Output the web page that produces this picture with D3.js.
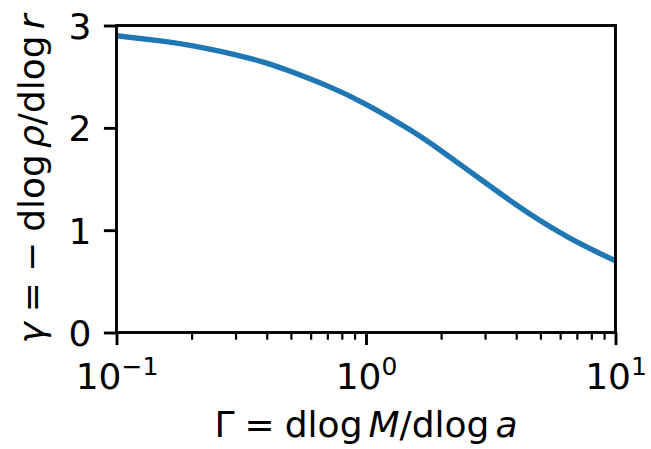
<!DOCTYPE html>
<html>
<head>
<meta charset="utf-8">
<script src="https://cdn.jsdelivr.net/npm/d3@7"></script>
<style>
  html, body { margin: 0; padding: 0; background: #fff; }
  svg { display: block; }
  text { font-family: "DejaVu Sans", sans-serif; fill: #000; }
</style>
</head>
<body>
<svg id="chart" width="651" height="449"></svg>
<script>
// Logarithmic growth rate of the enclosed mass, Γ = dlog M / dlog a
const growthRate = [0.1, 0.15, 0.2, 0.3, 0.4, 0.5, 0.7, 1.0, 1.5, 2.0, 3.0, 4.0, 5.0, 7.0, 10.0];
// Corresponding logarithmic density slope, γ = −dlog ρ / dlog r
const densitySlope = [2.900, 2.850, 2.803, 2.714, 2.632, 2.550, 2.410, 2.230, 1.981, 1.776, 1.466, 1.248, 1.092, 0.885, 0.700];

// Tick labels
const yTicks = [0, 1, 2, 3];
const xTicks = [0.1, 1, 10];
const xTickExponents = ["−1", "0", "1"];

const svg = d3.select("#chart");
const margin = { left: 116.5, right: 35.5, top: 25.5, bottom: 116.5 };
const W = 651, H = 449;
const innerW = W - margin.left - margin.right;
const innerH = H - margin.top - margin.bottom;

const x = d3.scaleLog().domain([0.1, 10]).range([0, innerW]);
const y = d3.scaleLinear().domain([0, 3]).range([innerH, 0]);

const g = svg.append("g").attr("transform", `translate(${margin.left},${margin.top})`);

g.append("clipPath").attr("id", "plot-clip")
  .append("rect").attr("width", innerW).attr("height", innerH);

// Curve
const line = d3.line()
  .x((d, i) => x(growthRate[i]))
  .y(d => y(d))
  .curve(d3.curveNatural);

g.append("path")
  .datum(densitySlope)
  .attr("clip-path", "url(#plot-clip)")
  .attr("fill", "none")
  .attr("stroke", "#1f77b4")
  .attr("stroke-width", 5.4)
  .attr("stroke-linecap", "square")
  .attr("d", line);

// Minor ticks on the log axis
const minorVals = [];
[0.1, 1].forEach(dec => { for (let k = 2; k <= 9; k++) minorVals.push(dec * k); });

const minorAxis = g.append("g")
  .attr("transform", `translate(0,${innerH})`)
  .call(d3.axisBottom(x).tickValues(minorVals).tickSize(7.2).tickFormat(""));
minorAxis.select(".domain").remove();
minorAxis.selectAll("line").attr("stroke", "#000").attr("stroke-width", 2.2);

// Major x ticks
const xAxis = g.append("g")
  .attr("transform", `translate(0,${innerH})`)
  .call(d3.axisBottom(x).tickValues(xTicks).tickSize(12.6).tickFormat(""));
xAxis.select(".domain").remove();
xAxis.selectAll("line").attr("stroke", "#000").attr("stroke-width", 2.9);
xAxis.selectAll(".tick").each(function (d, i) {
  const t = d3.select(this).append("text")
    .attr("y", 56)
    .attr("text-anchor", "middle")
    .style("font-size", "36px");
  t.append("tspan").text("10");
  t.append("tspan")
    .attr("dy", -14)
    .style("font-size", "25px")
    .text(xTickExponents[i]);
});

// Y ticks
const yAxis = g.append("g")
  .call(d3.axisLeft(y).tickValues(yTicks).tickSize(12.6).tickPadding(12.6).tickFormat(d3.format("d")));
yAxis.select(".domain").remove();
yAxis.selectAll("line").attr("stroke", "#000").attr("stroke-width", 2.9);
yAxis.selectAll("text")
  .attr("dy", "0.36em")
  .style("font-size", "36px")
  .style("font-family", "'DejaVu Sans', sans-serif")
  .attr("fill", "#000");

// Frame
g.append("rect")
  .attr("width", innerW).attr("height", innerH)
  .attr("fill", "none")
  .attr("stroke", "#000")
  .attr("stroke-width", 2.9)
  .attr("stroke-linejoin", "miter");

// X axis label: Γ = dlog M / dlog a
const xl = svg.append("text")
  .attr("x", margin.left + innerW / 2)
  .attr("y", 437)
  .attr("text-anchor", "middle")
  .style("font-size", "36px");
xl.append("tspan").text("Γ");
xl.append("tspan").attr("dx", 10).text("=");
xl.append("tspan").attr("dx", 10).text("dlog");
xl.append("tspan").attr("dx", 6).style("font-style", "italic").text("M");
xl.append("tspan").text("/dlog");
xl.append("tspan").attr("dx", 6).style("font-style", "italic").text("a");

// Y axis label: γ = −dlog ρ / dlog r
const yl = svg.append("text")
  .attr("transform", `translate(44,${margin.top + innerH / 2}) rotate(-90)`)
  .attr("text-anchor", "middle")
  .style("font-size", "36px");
yl.append("tspan").style("font-style", "italic").text("γ");
yl.append("tspan").attr("dx", 10).text("=");
yl.append("tspan").attr("dx", 10).text("−");
yl.append("tspan").attr("dx", 10).text("dlog");
yl.append("tspan").attr("dx", 6).style("font-style", "italic").text("ρ");
yl.append("tspan").text("/dlog");
yl.append("tspan").attr("dx", 6).style("font-style", "italic").text("r");
</script>
</body>
</html>
